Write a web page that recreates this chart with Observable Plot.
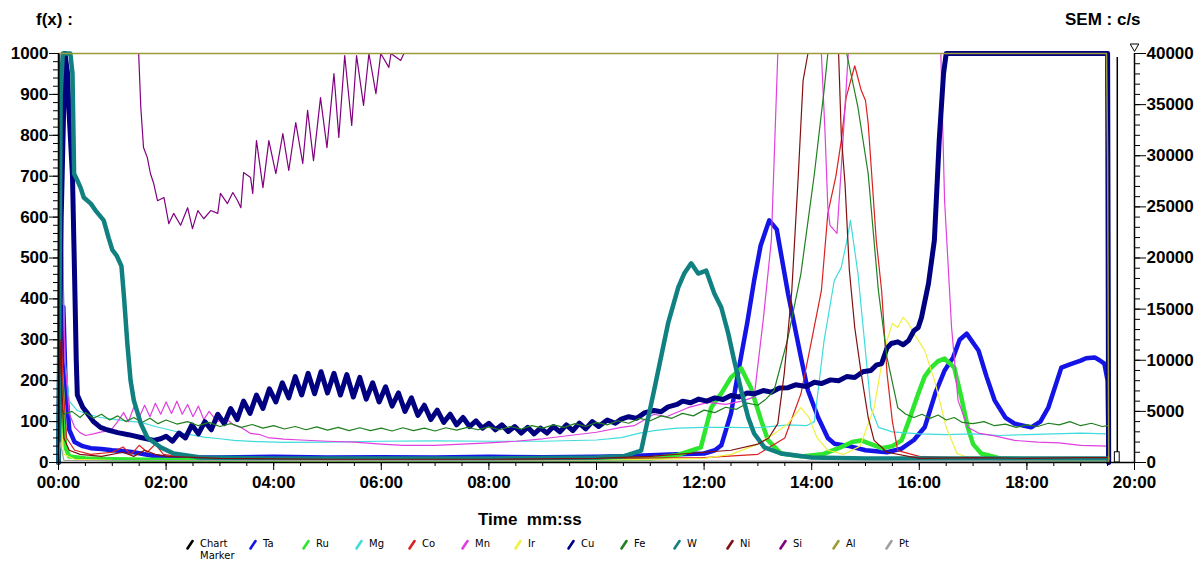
<!DOCTYPE html>
<html><head><meta charset="utf-8">
<script src="https://cdn.jsdelivr.net/npm/d3@7"></script>
<script src="https://cdn.jsdelivr.net/npm/@observablehq/plot@0.6"></script>
<style>
body{margin:0;background:#fff;width:1203px;height:563px;overflow:hidden;position:relative;font-family:"Liberation Sans",Arial,sans-serif}
#chart{position:absolute;left:0;top:0}
.ttl{position:absolute;font-weight:bold;font-size:17px;color:#000;white-space:pre}
.leg{position:absolute;top:538px;font-family:"DejaVu Sans",sans-serif;font-size:10px;line-height:12px;color:#000}
.leg svg{position:absolute;left:0;top:1px}
.leg span{position:absolute;left:14px;top:0;white-space:nowrap}
</style></head><body>
<div id="chart"></div>
<div class="ttl" style="left:36px;top:10px">f(x) :</div>
<div class="ttl" style="left:1065px;top:10px">SEM : c/s</div>
<div class="ttl" style="left:478px;top:510px;font-size:17px">Time  mm:ss</div>
<div id="legend"></div>
<script>
// ---- data (time in minutes, f(x) value) ----
const xTicks = [0,2,4,6,8,10,12,14,16,18,20];
const xMinorTicks = d3.range(0, 20.01, 0.5);
const yTicks = [0,100,200,300,400,500,600,700,800,900,1000];
const yMinorTicks = d3.range(0, 1001, 20);
const rightTickLabels = [0,5000,10000,15000,20000,25000,30000,35000,40000];
const rightMinorLabels = d3.range(0, 40001, 1000);
const rightMax = 40000;
const markerTime = [19.68];

const Ta = [[0,0],[0.05,370],[0.09,380],[0.13,200],[0.2,80],[0.3,50],[0.45,40],[0.6,35],[0.8,33],[1.0,30],[1.2,28],[1.4,25],[1.6,20],[1.8,15],[2.0,12],[3,12],[4,14],[5,12],[6,13],[7,12],[8,14],[9,13],[10,14],[10.5,15],[11,18],[11.5,20],[12.0,22],[12.2,30],[12.32,42],[12.5,120],[12.63,218],[12.8,340],[12.93,445],[13.05,530],[13.21,592],[13.35,570],[13.56,413],[13.8,257],[13.93,176],[14.12,110],[14.3,60],[14.42,46],[14.7,40],[15.0,30],[15.4,25],[15.67,34],[15.9,55],[16.1,86],[16.3,170],[16.47,225],[16.63,257],[16.75,300],[16.88,315],[17.1,274],[17.25,210],[17.4,152],[17.6,110],[17.77,95],[18.08,86],[18.25,100],[18.4,135],[18.64,232],[18.8,240],[19.0,249],[19.1,255],[19.26,257],[19.35,250],[19.44,242],[19.5,200],[19.52,0]];
const Ru = [[0,0],[0.03,260],[0.08,150],[0.12,40],[0.2,15],[0.5,10],[1,8],[2,6],[4,5],[6,5],[8,5],[10,6],[11,10],[11.5,18],[11.94,37],[12.13,134],[12.32,169],[12.5,208],[12.69,230],[12.87,183],[13.06,103],[13.19,54],[13.43,22],[13.8,15],[14.2,20],[14.5,35],[14.75,50],[14.92,54],[15.1,45],[15.3,35],[15.5,40],[15.67,54],[15.8,100],[15.98,168],[16.1,210],[16.22,232],[16.35,248],[16.47,254],[16.65,232],[16.78,160],[16.9,86],[17.0,45],[17.15,22],[17.5,10],[18,8],[19,6],[19.5,5]];
const Mg = [[0,0],[0.03,850],[0.08,500],[0.12,250],[0.2,150],[0.35,127],[0.55,118],[0.78,110],[1.0,106],[1.25,102],[1.53,98],[1.8,88],[2.05,80],[2.33,71],[2.7,62],[3.0,58],[3.26,54],[3.7,51],[4.19,49],[5,50],[6,52],[7,53],[8,52],[9,52],[10,55],[10.46,61],[10.8,72],[11.07,78],[11.5,84],[12,86],[12.5,86],[13,85],[13.56,92],[13.9,90],[14.05,100],[14.23,298],[14.42,445],[14.55,477],[14.65,540],[14.72,592],[14.86,462],[14.98,298],[15.1,134],[15.24,86],[15.5,75],[16,70],[16.5,68],[17,70],[17.5,66],[18,68],[18.5,70],[19,72],[19.5,70]];
const Co = [[0,0],[0.03,480],[0.08,200],[0.15,60],[0.3,30],[0.6,20],[1.0,25],[1.2,38],[1.35,20],[1.5,42],[1.65,25],[1.8,45],[1.95,20],[2.2,15],[3,10],[5,8],[8,8],[10,10],[12,12],[13,20],[13.5,60],[13.8,168],[14.0,300],[14.18,420],[14.3,609],[14.45,700],[14.55,787],[14.64,892],[14.8,970],[14.92,910],[15.0,885],[15.05,829],[15.2,543],[15.3,420],[15.4,218],[15.5,100],[15.6,29],[16,15],[17,10],[18,10],[19,10],[19.5,10]];
const Mn = [[0,0],[0.02,1000],[0.06,600],[0.12,250],[0.2,120],[0.3,86],[0.4,73],[0.5,66],[0.65,70],[0.8,75],[0.97,78],[1.1,100],[1.21,122],[1.3,100],[1.4,135],[1.5,110],[1.6,140],[1.7,112],[1.8,145],[1.9,118],[2.0,148],[2.1,120],[2.2,150],[2.3,118],[2.4,142],[2.5,112],[2.6,138],[2.7,105],[2.8,125],[2.95,100],[3.1,108],[3.26,92],[3.4,85],[3.57,71],[3.75,68],[3.89,61],[4.19,57],[4.5,55],[5,52],[5.5,50],[6,45],[6.4,42],[7,42],[7.5,45],[8,48],[8.5,52],[9,58],[9.5,66],[10,74],[10.46,86],[10.7,90],[11.07,118],[11.3,112],[11.7,134],[12.07,147],[12.4,142],[12.7,150],[12.93,160],[13.1,350],[13.25,543],[13.37,1000],[13.45,1100],[14.1,1100],[14.18,1000],[14.25,800],[14.3,623],[14.34,580],[14.47,560],[14.55,721],[14.68,1000],[14.75,1100],[16.3,1100],[16.4,1000],[16.47,640],[16.6,330],[16.72,152],[16.9,86],[17.1,72],[17.4,65],[17.77,54],[18.2,50],[18.6,48],[19,42],[19.5,40]];
const Ir = [[0,0],[0.03,120],[0.1,20],[0.3,8],[1,5],[5,4],[10,5],[12,10],[12.5,20],[13,45],[13.3,70],[13.56,95],[13.8,134],[13.95,110],[14.1,60],[14.3,30],[14.6,20],[14.9,40],[15.16,134],[15.3,240],[15.4,298],[15.5,340],[15.6,330],[15.7,355],[15.8,340],[15.9,315],[16.1,274],[16.3,193],[16.5,86],[16.7,22],[17,8],[18,5],[19.5,5]];
const Cu = [[0,0],[0.05,600],[0.12,1000],[0.17,950],[0.19,870],[0.26,700],[0.3,450],[0.33,250],[0.35,165],[0.45,135],[0.54,120],[0.65,100],[0.78,86],[0.9,80],[1.1,73],[1.3,68],[1.53,61],[1.77,54],[1.9,58],
 [2.00,64],[2.12,52],[2.24,72],[2.36,60],[2.48,92],[2.60,70],[2.72,100],[2.84,80],[2.96,118],[3.08,95],[3.20,132],[3.32,105],[3.44,150],[3.56,120],[3.68,165],[3.80,132],[3.92,180],[4.04,148],[4.16,195],[4.28,158],[4.40,210],[4.52,165],[4.64,218],[4.76,168],[4.88,222],[5.00,170],[5.12,218],[5.24,165],[5.36,215],[5.48,160],[5.60,208],[5.72,155],[5.84,195],[5.96,148],[6.08,185],[6.20,138],[6.32,170],[6.44,125],[6.56,158],[6.68,115],[6.80,140],[6.92,105],[7.04,128],[7.16,98],[7.28,118],[7.40,92],[7.52,110],[7.64,88],[7.76,102],[7.88,84],[8.00,96],[8.12,80],[8.24,92],[8.36,76],[8.48,88],[8.60,72],[8.72,86],[8.84,70],[8.96,84],[9.08,72],[9.20,88],[9.32,75],[9.44,92],[9.56,78],[9.68,96],[9.80,82],[9.92,100],[10.04,88],
 [10.2,104],[10.35,96],[10.46,106],[10.6,112],[10.75,108],[10.9,122],[11.07,127],[11.2,124],[11.33,136],[11.5,142],[11.6,150],[11.75,146],[11.9,155],[12.05,150],[12.2,158],[12.35,154],[12.5,164],[12.65,160],[12.8,170],[12.93,168],[13.1,176],[13.25,172],[13.4,182],[13.56,183],[13.7,190],[13.9,186],[14.05,196],[14.18,193],[14.35,202],[14.5,200],[14.65,210],[14.8,208],[14.95,222],[15.1,225],[15.2,238],[15.3,242],[15.4,280],[15.48,291],[15.6,295],[15.7,288],[15.8,298],[15.9,322],[15.98,330],[16.04,354],[16.17,437],[16.28,543],[16.37,787],[16.45,950],[16.5,1000],[19.5,1000],[19.52,0]];
const Fe = [[0,0],[0.03,150],[0.1,118],[0.25,125],[0.4,110],[0.5,122],[0.65,108],[0.8,118],[0.95,104],[1.1,114],[1.25,100],[1.4,110],[1.55,98],[1.7,108],[1.85,95],[2.0,104],[2.2,94],[2.4,100],[2.6,90],[2.8,98],[3.0,88],[3.2,95],[3.4,86],[3.6,93],[3.8,84],[4.0,90],[4.2,82],[4.4,88],[4.6,80],[4.8,87],[5.0,79],[5.2,86],[5.4,78],[5.6,85],[5.8,78],[6.0,84],[6.2,77],[6.4,85],[6.6,78],[6.8,84],[7.0,77],[7.2,85],[7.4,79],[7.6,86],[7.8,80],[8.0,87],[8.2,80],[8.4,88],[8.6,82],[8.8,90],[9.0,84],[9.2,92],[9.4,86],[9.6,95],[9.8,88],[10.0,98],[10.2,92],[10.4,102],[10.6,96],[10.8,108],[11.0,102],[11.2,114],[11.4,108],[11.6,120],[11.8,114],[12.0,128],[12.2,122],[12.4,135],[12.6,130],[12.8,145],[13.0,140],[13.15,155],[13.3,176],[13.55,300],[13.8,462],[14.05,706],[14.23,910],[14.3,1000],[14.65,1000],[14.86,868],[15.05,706],[15.24,420],[15.4,257],[15.6,134],[15.75,118],[15.9,110],[16.05,118],[16.2,108],[16.35,116],[16.5,104],[16.65,110],[16.8,98],[17.0,95],[17.2,100],[17.4,90],[17.6,94],[17.8,86],[18.0,92],[18.2,88],[18.4,96],[18.6,92],[18.8,100],[19.0,90],[19.2,96],[19.4,88],[19.5,90]];
const W = [[0,0],[0.04,900],[0.08,1000],[0.22,1000],[0.26,951],[0.29,706],[0.35,690],[0.41,672],[0.47,648],[0.6,633],[0.69,616],[0.84,592],[0.93,550],[1.0,520],[1.08,506],[1.17,480],[1.22,400],[1.28,290],[1.34,200],[1.4,152],[1.53,95],[1.65,61],[1.9,37],[2.14,22],[2.64,12],[4,10],[6,10],[8,10],[10,12],[10.5,15],[10.83,29],[11.07,176],[11.33,340],[11.52,428],[11.63,462],[11.76,487],[11.89,462],[12.04,469],[12.19,413],[12.32,379],[12.45,315],[12.56,249],[12.69,176],[12.82,110],[12.93,71],[13.12,37],[13.43,22],[14,12],[15,10],[16,10],[17,10],[18,10],[19,10],[19.5,10]];
const Ni = [[0,0],[0.03,300],[0.1,60],[0.2,30],[0.4,20],[0.8,15],[1.2,25],[1.4,15],[1.6,30],[1.8,20],[2,15],[3,10],[5,8],[8,8],[10,10],[11,15],[12,25],[12.5,30],[13,45],[13.2,60],[13.37,95],[13.49,218],[13.63,420],[13.75,700],[13.84,934],[13.93,1000],[14.0,1100],[14.45,1100],[14.5,1000],[14.55,800],[14.62,680],[14.7,470],[14.8,330],[14.92,218],[15.05,110],[15.16,54],[15.4,25],[16,10],[17,12],[18,10],[19,12],[19.5,12]];
const Si = [[0,0],[0.02,1100],[1.45,1100],[1.49,1000],[1.53,868],[1.58,770],[1.65,746],[1.71,706],[1.77,682],[1.84,640],[1.96,648],[2.05,584],[2.14,609],[2.27,580],[2.40,623],[2.49,572],[2.59,616],[2.70,596],[2.83,616],[2.96,609],[3.01,658],[3.14,633],[3.24,660],[3.33,640],[3.39,623],[3.44,709],[3.57,697],[3.61,658],[3.68,787],[3.80,672],[3.91,787],[4.04,706],[4.17,804],[4.28,714],[4.41,831],[4.54,731],[4.63,861],[4.74,738],[4.87,892],[4.99,770],[5.12,951],[5.21,795],[5.32,995],[5.45,824],[5.54,995],[5.67,873],[5.77,1000],[5.90,902],[5.99,1000],[6.14,966],[6.18,1000],[6.36,983],[6.42,1000],[6.5,1100],[19.5,1100]];
const Al = [[0,1000],[19.48,1000],[19.5,750],[19.52,0]];
const Pt = [[0,0],[0.03,50],[0.1,5],[19.5,3]];

const series = [
  {name:"Ta", data:Ta, color:"#1414e6", width:4.5},
  {name:"Ru", data:Ru, color:"#2ee62e", width:4.5},
  {name:"Mg", data:Mg, color:"#40dcdc", width:1.2},
  {name:"Co", data:Co, color:"#dc2020", width:1.2},
  {name:"Mn", data:Mn, color:"#e040e0", width:1.2},
  {name:"Ir", data:Ir, color:"#f0f040", width:1.2},
  {name:"Cu", data:Cu, color:"#000080", width:5},
  {name:"Fe", data:Fe, color:"#208020", width:1.2},
  {name:"W",  data:W,  color:"#108080", width:4.5},
  {name:"Ni", data:Ni, color:"#801010", width:1.2},
  {name:"Si", data:Si, color:"#800080", width:1.2},
  {name:"Al", data:Al, color:"#9c9c3a", width:1.5},
  {name:"Pt", data:Pt, color:"#a0a0a0", width:1.2}
];
const legendItems = [{name:"Chart\nMarker", color:"#000"}].concat(series.map(s => ({name:s.name, color:s.color})));

const fmt = d => String(d).padStart(2,"0") + ":00";
const scaleR = 1000 / rightMax;

const marks = [];
for (const s of series) {
  const needsClip = s.data.some(d => d[1] > 1000);
  marks.push(Plot.line(s.data, {x: d => d[0], y: d => d[1], stroke: s.color, strokeWidth: s.width, strokeLinejoin: "round", strokeLinecap: "round", clip: needsClip}));
}
// chart marker
marks.push(Plot.ruleX(markerTime, {x: d => d, y1: 0, y2: 990, stroke: "#000", strokeWidth: 1.5}));
marks.push(Plot.rect(markerTime, {x1: d => d - 0.045, x2: d => d + 0.045, y1: 0, y2: 25, fill: "#fff", stroke: "#000", strokeWidth: 1}));
// axes lines
marks.push(Plot.ruleX([0, 20], {stroke: "#000", strokeWidth: 1.5}));
marks.push(Plot.ruleY([0], {stroke: "#000", strokeWidth: 1.5}));
// left axis
marks.push(Plot.axisY(yMinorTicks, {anchor: "left", tickSize: 5, tickFormat: () => "", label: null, stroke: "#000"}));
marks.push(Plot.axisY(yTicks, {anchor: "left", tickSize: 9, tickPadding: 1, tickFormat: d => String(d), label: null, fontSize: 17, fontWeight: "bold", fill: "#000", stroke: "#000"}));
// right axis
marks.push(Plot.axisY(rightMinorLabels.map(v => v * scaleR), {anchor: "right", tickSize: 5, tickFormat: () => "", label: null, stroke: "#000"}));
marks.push(Plot.axisY(rightTickLabels.map(v => v * scaleR), {anchor: "right", tickSize: 11, tickPadding: 1, tickFormat: d => String(Math.round(d / scaleR)), label: null, fontSize: 17, fontWeight: "bold", fill: "#000", stroke: "#000"}));
marks.push(Plot.dot([1000], {x: () => 20, y: d => d, symbol: "triangle", rotate: 180, r: 3.2, dy: -7, stroke: "#000", fill: "#fff", strokeWidth: 1}));
// bottom axis
marks.push(Plot.axisX(xMinorTicks, {anchor: "bottom", tickSize: 4, tickFormat: () => "", label: null, stroke: "#000"}));
marks.push(Plot.axisX(xTicks, {anchor: "bottom", tickSize: 8, tickPadding: 5, tickFormat: fmt, label: null, fontSize: 17, fontWeight: "bold", fill: "#000", stroke: "#000"}));

const chart = Plot.plot({
  width: 1203, height: 563,
  marginTop: 53, marginBottom: 101, marginLeft: 58, marginRight: 69,
  style: {fontFamily: "'Liberation Sans', Arial, sans-serif", background: "#fff", overflow: "visible"},
  x: {domain: [0, 20]},
  y: {domain: [0, 1000]},
  marks
});
document.getElementById("chart").appendChild(chart);

// legend
const legend = document.getElementById("legend");
legendItems.forEach((it, i) => {
  const left = i === 0 ? 186 : 249 + (i - 1) * 53;
  const div = document.createElement("div");
  div.className = "leg";
  div.style.left = left + "px";
  div.innerHTML = `<svg width="8" height="11"><line x1="1.5" y1="9.5" x2="6.5" y2="2" stroke="${it.color}" stroke-width="2.6" stroke-linecap="round"/></svg><span>${it.name.replace("\n","<br>")}</span>`;
  legend.appendChild(div);
});
</script>
</body></html>
